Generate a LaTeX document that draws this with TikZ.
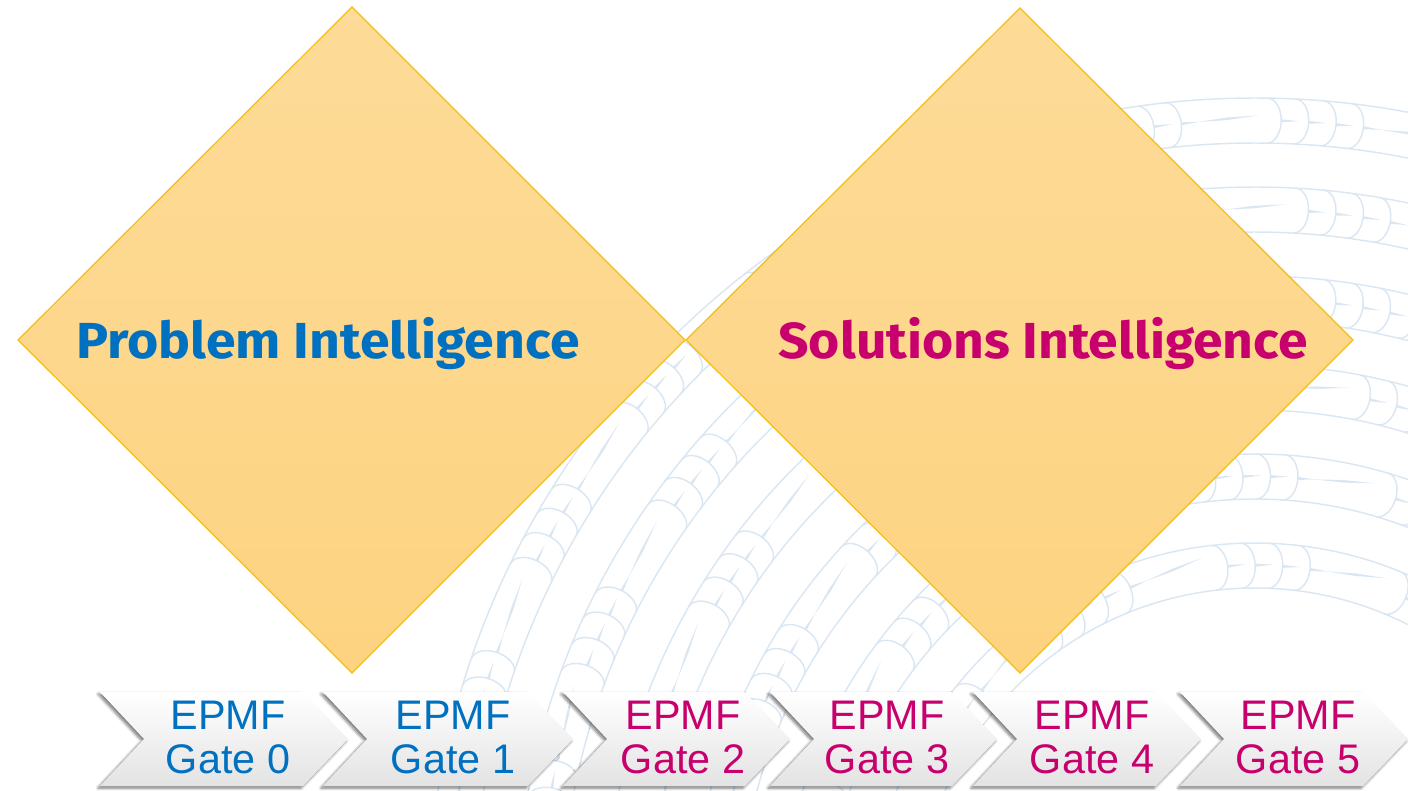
\documentclass[tikz,border=0pt]{standalone}
\usepackage{fontspec}
\setmainfont{Liberation Sans}
\newfontfamily\headfont{Fira Sans}
\usetikzlibrary{shadows.blur}

\definecolor{pibBlue}{RGB}{0,112,192}
\definecolor{pibMagenta}{RGB}{200,0,110}
\definecolor{diaTop}{RGB}{253,219,152}
\definecolor{diaBot}{RGB}{253,211,128}
\definecolor{diaLine}{RGB}{245,190,20}
\definecolor{bandBlue}{RGB}{218,231,243}

\tikzset{every picture/.style={line width=0.75pt}}
\tikzset{
  diamondshape/.style={top color=diaTop, bottom color=diaBot, draw=diaLine, line width=0.9pt},
  gatebox/.style={top color=white, bottom color=black!11, draw=none,
    blur shadow={shadow xshift=-1.5pt, shadow yshift=-1.5pt, shadow blur steps=6, shadow opacity=55}},
  headtext/.style={font=\headfont\bfseries\fontsize{38}{40}\selectfont, anchor=base, inner sep=0pt},
  gatetext/.style={font=\fontsize{31}{33}\selectfont, align=center, inner sep=0pt},
  bandline/.style={draw=bandBlue, line width=1.1pt},
}

\begin{document}
\begin{tikzpicture}[x=0.75pt,y=0.75pt,yscale=-1,xscale=1]
\useasboundingbox (0,0) rectangle (1408,790);

%Background: feather bands round a centre below the page
\begin{scope}
\clip (0,0) rectangle (1408,790);
\foreach \k/\ph in {0/0,1/70,2/140,3/35,4/105,5/160}{
  \pgfmathsetmacro\ro{828-89*\k}
  \pgfmathsetmacro\ri{\ro-45}
  \pgfmathsetmacro\rm{\ro-22.5}
  \pgfmathtruncatemacro\ng{2.2*\rm/182.5+1}
  \draw[bandline] (1255,926) ++(180:\ro) arc[start angle=180, end angle=315, radius=\ro];
  \draw[bandline] (1255,926) ++(180:\ri) arc[start angle=180, end angle=315, radius=\ri];
  \foreach \g in {0,...,\ng}{
    \foreach \j in {0,...,3}{
      \pgfmathsetmacro\th{180+(\ph+\g*182.5+\j*27.5)/\rm*57.2958}
      \begin{scope}[shift={(1255,926)}, rotate=\th]
        \draw[bandline] (\ro,0) arc[start angle=0, end angle=180, x radius=22.5, y radius=14];
        \fill[bandBlue] ({\rm-1.5},14) -- ({\rm+1.5},14) -- (\rm,32) -- cycle;
        \ifnum\j=3
          \fill[bandBlue] (\rm,30) -- ({\rm+1.3},60) -- (\rm,92) -- ({\rm-1.3},60) -- cycle;
        \fi
      \end{scope}
    }
  }
}
\end{scope}

%Shape: Diamond [id:problem]
\draw[diamondshape] (352,7) -- (685,340) -- (352,673) -- (18,340) -- cycle;
%Shape: Diamond [id:solutions]
\draw[diamondshape] (1020,8) -- (1353,340) -- (1020,673) -- (686,340) -- cycle;

% Text Node
\node[headtext, text=pibBlue] (probint) at (328,358) {\scalebox{1.057}[1]{Problem Intelligence}};
% Text Node
\node[headtext, text=pibMagenta] (solint) at (1043,358) {\scalebox{1.054}[1]{Solutions Intelligence}};

%Shape: Chevrons
\foreach \L/\W in {100/248, 323/250, 563/227, 770/227, 973/228, 1180/228}{
  \path[gatebox] (\L,692) -- ({\L+\W-45},692) -- ({\L+\W},739) -- ({\L+\W-45},786) -- (\L,786) -- ({\L+44},739) -- cycle;
}

% Text Nodes
\foreach \x/\n/\c in {228/0/pibBlue, 453/1/pibBlue, 683/2/pibMagenta, 887/3/pibMagenta, 1092/4/pibMagenta, 1298/5/pibMagenta}{
  \node[gatetext, text=\c] (gate\n) at (\x,737) {EPMF\\Gate \n};
}

\end{tikzpicture}
\end{document}
